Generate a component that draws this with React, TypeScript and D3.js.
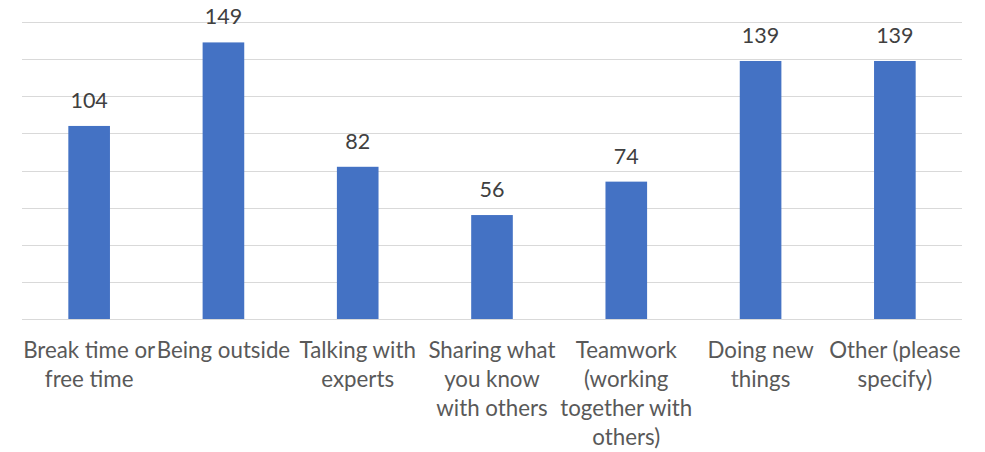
import React from "react";
import * as d3 from "d3";

const categories = [
  "Break time or\nfree time",
  "Being outside",
  "Talking with\nexperts",
  "Sharing what\nyou know\nwith others",
  "Teamwork\n(working\ntogether with\nothers)",
  "Doing new\nthings",
  "Other (please\nspecify)",
];
const values = [104, 149, 82, 56, 74, 139, 139];
const yTicks = [0, 20, 40, 60, 80, 100, 120, 140, 160];

const W = 985;
const H = 452;
const margin = { left: 22, right: 23, top: 22, bottom: 133 };

export default function App() {
  const x = d3
    .scaleBand<number>()
    .domain(d3.range(categories.length))
    .range([margin.left, W - margin.right])
    .paddingInner(0.69)
    .paddingOuter(0.345);
  const y = d3
    .scaleLinear()
    .domain([0, 160])
    .range([H - margin.bottom, margin.top]);

  const font = "Lato, 'Open Sans', sans-serif";
  return (
    <svg
      width={W}
      height={H}
      style={{ position: "absolute", left: 0, top: 0, background: "#fff" }}
    >
      {yTicks.map((t) => (
        <line
          key={t}
          x1={margin.left}
          x2={W - margin.right}
          y1={Math.round(y(t)) + 0.5}
          y2={Math.round(y(t)) + 0.5}
          stroke="#d9d9d9"
          strokeWidth={1.2}
        />
      ))}
      {values.map((v, i) => (
        <rect
          key={i}
          x={x(i)}
          y={y(v)}
          width={x.bandwidth()}
          height={y(0) - y(v)}
          fill="#4472c4"
        />
      ))}
      {values.map((v, i) => (
        <text
          key={"l" + i}
          x={(x(i) as number) + x.bandwidth() / 2}
          y={y(v) - 18}
          textAnchor="middle"
          fontFamily={font}
          fontSize={21.5}
          fill="#404040"
        >
          {v}
        </text>
      ))}
      {categories.map((c, i) => (
        <text
          key={"c" + i}
          x={(x(i) as number) + x.bandwidth() / 2}
          y={358}
          textAnchor="middle"
          fontFamily={font}
          fontSize={22.3}
          fill="#595959"
        >
          {c.split("\n").map((ln, j) => (
            <tspan key={j} x={(x(i) as number) + x.bandwidth() / 2} dy={j === 0 ? 0 : 29}>
              {ln}
            </tspan>
          ))}
        </text>
      ))}
    </svg>
  );
}
